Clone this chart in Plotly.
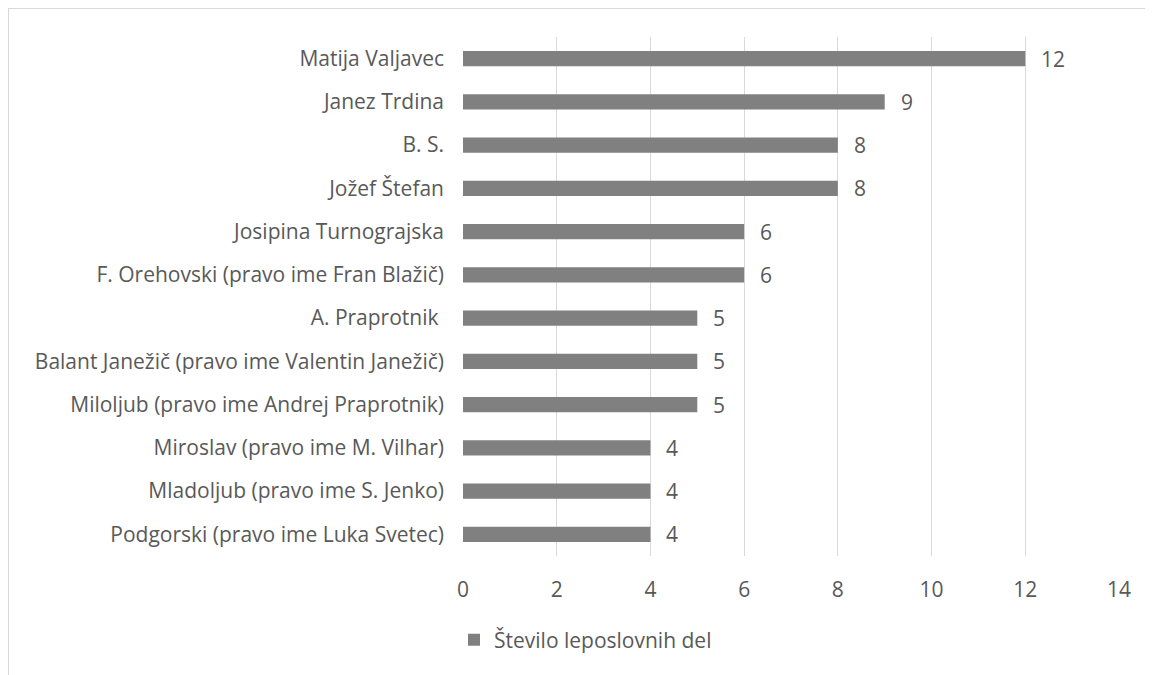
import plotly.graph_objects as go

categories = [
    "Matija Valjavec",
    "Janez Trdina",
    "B. S.",
    "Jožef Štefan",
    "Josipina Turnograjska",
    "F. Orehovski (pravo ime Fran Blažič)",
    "A. Praprotnik ",
    "Balant Janežič (pravo ime Valentin Janežič)",
    "Miloljub (pravo ime Andrej Praprotnik)",
    "Miroslav (pravo ime M. Vilhar)",
    "Mladoljub (pravo ime S. Jenko)",
    "Podgorski (pravo ime Luka Svetec)",
]
values = [12, 9, 8, 8, 6, 6, 5, 5, 5, 4, 4, 4]
series_name = "Število leposlovnih del"
x_ticks = [0, 2, 4, 6, 8, 10, 12, 14]

W, H = 1153, 675
L, R, T, B = 455, 42, 29, 127
pw, ph = W - L - R, H - T - B

FONT = "Open Sans, Liberation Sans, sans-serif"
TXT = "#595959"
GRID = "#d9d9d9"

fig = go.Figure()
fig.add_trace(go.Bar(
    y=categories, x=values, orientation="h",
    marker=dict(color="#808080", line=dict(width=0)),
    name=series_name, showlegend=True,
))

for c, v in zip(categories, values):
    fig.add_annotation(x=v, y=c, text=str(v), showarrow=False,
                       xanchor="left", xshift=14,
                       font=dict(family=FONT, size=21, color=TXT))

def px_to_paper_x(px):
    return (px - L) / pw

def px_to_paper_y(py):
    return 1 - (py - T) / ph

# chart border (top and left visible)
fig.add_shape(type="line", xref="paper", yref="paper",
              x0=px_to_paper_x(0), x1=px_to_paper_x(W + 5),
              y0=px_to_paper_y(0), y1=px_to_paper_y(0),
              line=dict(color=GRID, width=2))
fig.add_shape(type="line", xref="paper", yref="paper",
              x0=px_to_paper_x(0), x1=px_to_paper_x(0),
              y0=px_to_paper_y(0), y1=px_to_paper_y(H + 5),
              line=dict(color=GRID, width=2))

fig.update_layout(
    width=W, height=H,
    margin=dict(l=L, r=R, t=T, b=B),
    paper_bgcolor="white", plot_bgcolor="white",
    bargap=0.65,
    font=dict(family=FONT, size=21, color=TXT),
    xaxis=dict(range=[0, 14], tickvals=x_ticks, showgrid=True,
               gridcolor=GRID, gridwidth=1, zeroline=False,
               showline=False, ticks="", ticklabelstandoff=19,
               tickfont=dict(family=FONT, size=21, color=TXT)),
    yaxis=dict(autorange="reversed", showgrid=False, zeroline=False,
               showline=False, ticks="", ticklabelstandoff=18,
               tickfont=dict(family=FONT, size=21, color=TXT)),
    legend=dict(orientation="h", x=px_to_paper_x(446), xanchor="left",
                y=px_to_paper_y(632), yanchor="middle",
                font=dict(family=FONT, size=21, color=TXT),
                itemwidth=30, itemsizing="constant"),
)

fig.write_html("out.html")
